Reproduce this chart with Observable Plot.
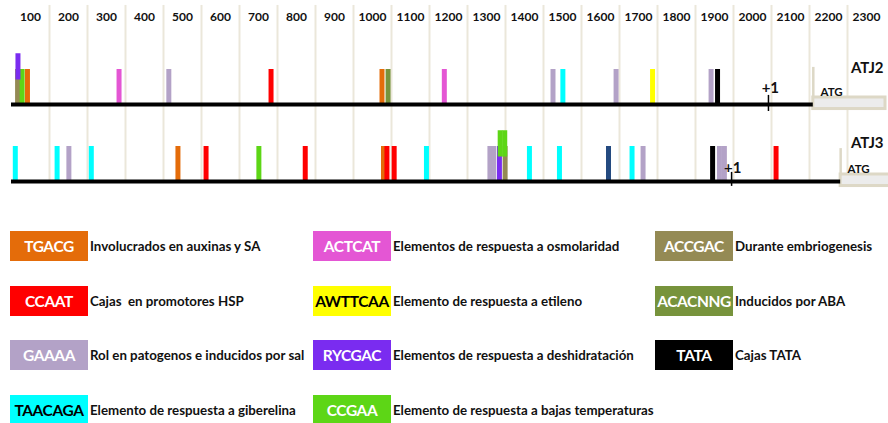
<!DOCTYPE html>
<html>
<head>
<meta charset="utf-8">
<script src="https://cdn.jsdelivr.net/npm/d3@7"></script>
<script src="https://cdn.jsdelivr.net/npm/@observablehq/plot@0.6"></script>
<style>
  html, body { margin: 0; padding: 0; background: #fff; }
  #wrap { position: relative; width: 888px; height: 423px; font-family: Lato, "Open Sans", sans-serif; overflow: hidden; }
  #chart svg { display: block; overflow: visible; }
  .item { position: absolute; display: flex; align-items: center; height: 30px; }
  .box { width: 78px; height: 30px; display: flex; align-items: center; justify-content: center;
         font-weight: bold; font-size: 15.5px; letter-spacing: -0.4px; overflow: hidden; white-space: nowrap; }
  .desc { margin-left: 2px; font-weight: bold; font-size: 13.3px; color: #111; letter-spacing: 0px; white-space: pre; }
</style>
</head>
<body>
<div id="wrap">
  <div id="chart"></div>
  <div id="legend"></div>
</div>
<script>
// ---- data ----
const tickLabels = ["100","200","300","400","500","600","700","800","900","1000","1100","1200",
  "1300","1400","1500","1600","1700","1800","1900","2000","2100","2200","2300"];
const gridValues = [100,200,300,400,500,600,700,800,900,1000,1100,1200,1300,1400,1500,1600,1700,1800,1900,2000,2100,2200];

const genes = ["ATJ2", "ATJ3"];
const geneEnds = [2110, 2182];          // end of promoter line (ATG start)
const tssPositions = [1992, 1895];     // "+1"

const atj2Positions = [16, 28, 42, 283, 414, 683, 975, 991, 1139, 1425, 1451, 1591, 1687, 1841, 1858];
const atj2Motifs = ["ACCGAC", "CCGAA", "TGACG", "ACTCAT", "GAAAA", "CCAAT", "TGACG", "ACACNNG",
  "ACTCAT", "GAAAA", "TAACAGA", "GAAAA", "AWTTCAA", "GAAAA", "TATA"];
const atj2RaisedPositions = [17];
const atj2RaisedMotifs = ["RYCGAC"];

const atj3Positions = [10, 120, 151, 210, 438, 512, 651, 773, 979, 988, 1007, 1092, 1259, 1269, 1284, 1299,
  1363, 1442, 1571, 1633, 1662, 1845, 1863, 1876, 2012];
const atj3Motifs = ["TAACAGA", "TAACAGA", "GAAAA", "TAACAGA", "TGACG", "CCAAT", "CCGAA", "CCAAT",
  "TGACG", "CCAAT", "CCAAT", "TAACAGA", "GAAAA", "GAAAA", "RYCGAC", "ACCGAC",
  "TAACAGA", "TAACAGA", "OTRO", "TAACAGA", "GAAAA", "TATA", "GAAAA", "GAAAA", "CCAAT"];
const atj3RaisedPositions = [1286, 1298];
const atj3RaisedMotifs = ["CCGAA", "CCGAA"];

const legendCodes = ["TGACG", "CCAAT", "GAAAA", "TAACAGA", "ACTCAT", "AWTTCAA", "RYCGAC", "CCGAA", "ACCGAC", "ACACNNG", "TATA"];
const legendDescs = ["Involucrados en auxinas y SA", "Cajas  en promotores HSP", "Rol en patogenos e inducidos por sal",
  "Elemento de respuesta a giberelina", "Elementos de respuesta a osmolaridad", "Elemento de respuesta a etileno",
  "Elementos de respuesta a deshidratación", "Elemento de respuesta a bajas temperaturas",
  "Durante embriogenesis", "Inducidos por ABA", "Cajas TATA"];
const legendColors = ["#e46c0a", "#ff0000", "#b3a2c7", "#00ffff", "#e456d4", "#ffff00", "#7a2cf0", "#5dd616",
  "#948a54", "#77933c", "#000000"];
const legendTextColors = ["#fff", "#fff", "#fff", "#000", "#fff", "#000", "#fff", "#fff", "#fff", "#fff", "#fff"];

// ---- build ----
const colorOf = new Map(legendCodes.map((c, i) => [c, legendColors[i]]));
colorOf.set("OTRO", "#244a80");
const trackBase = {ATJ2: 2.2, ATJ3: 0};

function bars(gene, pos, motifs, lo, hi) {
  return pos.map((p, i) => ({gene, x: p, motif: motifs[i], y1: trackBase[gene] + lo, y2: trackBase[gene] + hi}));
}
const baseBars = [...bars("ATJ2", atj2Positions, atj2Motifs, 0, 1), ...bars("ATJ3", atj3Positions, atj3Motifs, 0, 1)];
const raisedBars = [...bars("ATJ2", atj2RaisedPositions, atj2RaisedMotifs, 0.7, 1.45),
                    ...bars("ATJ3", atj3RaisedPositions, atj3RaisedMotifs, 0.7, 1.45)];
const tracks = genes.map((g, i) => ({gene: g, base: trackBase[g], end: geneEnds[i], tss: tssPositions[i]}));
const ticks = tickLabels.map((t, i) => ({x: i * 100 + 50, label: t}));

const beige = "#ddd8c6";
const isA2 = d => d.gene === "ATJ2";
const plot = Plot.plot({
  width: 888, height: 195,
  marginTop: 0, marginBottom: 0, marginLeft: 11, marginRight: 3,
  x: {domain: [0, 2300], axis: null},
  y: {domain: [-0.4, 181 / 35], axis: null},
  style: {fontFamily: "Lato, 'Open Sans', sans-serif", background: "white", overflow: "visible"},
  marks: [
    Plot.ruleX(gridValues, {x: d => d, y1: -0.06, y2: 5.03, stroke: "#ebe7da", strokeWidth: 2}),
    Plot.text(ticks, {x: "x", y: 4.69, text: "label", fontSize: 12, fontWeight: "bold", fill: "#111"}),
    // bars
    Plot.ruleX(baseBars, {x: "x", y1: "y1", y2: "y2", stroke: d => colorOf.get(d.motif), strokeWidth: 5}),
    Plot.ruleX(raisedBars, {x: "x", y1: "y1", y2: "y2", stroke: d => colorOf.get(d.motif), strokeWidth: 5}),
    // ATG boxes
    Plot.ruleX(tracks, {x: "end", y1: d => d.base, y2: d => d.base + (isA2(d) ? 1.06 : 0.94), stroke: beige, strokeWidth: 2.5}),
    Plot.rect(tracks, {x1: "end", x2: d => isA2(d) ? 2300 : 2315, y1: d => d.base - 0.13, y2: d => d.base + 0.2, fill: "#ececec", stroke: beige, strokeWidth: 3}),
    // promoter lines
    Plot.ruleY(tracks, {y: "base", x1: 0, x2: "end", stroke: "#000", strokeWidth: 4}),
    // +1 ticks
    Plot.ruleX(tracks, {x: "tss", y1: d => d.base - (isA2(d) ? 0.2 : 0.14), y2: d => d.base + 0.26, stroke: "#000", strokeWidth: 1.5}),
    Plot.text(tracks, {x: d => d.tss + (isA2(d) ? 5 : 3), y: d => d.base + (isA2(d) ? 0.46 : 0.37), text: () => "+1", fontSize: 15, fontWeight: "bold", fill: "#111"}),
    // labels
    Plot.text(tracks, {x: 2252, y: d => d.base + (isA2(d) ? 1.03 : 1.09), text: "gene", fontSize: 15, fontWeight: "bold", fill: "#111"}),
    Plot.text(tracks, {x: d => isA2(d) ? 2129 : 2200, y: d => d.base + 0.34, text: () => "ATG", textAnchor: "start", fontSize: 11.5, fontWeight: "bold", fill: "#111"})
  ]
});
document.getElementById("chart").appendChild(plot);

// ---- legend ----
const legend = document.getElementById("legend");
const colLeft = [10, 313, 655];
legendCodes.forEach((code, i) => {
  const col = i < 4 ? 0 : i < 8 ? 1 : 2;
  const row = i < 4 ? i : i < 8 ? i - 4 : i - 8;
  const item = document.createElement("div");
  item.className = "item";
  item.style.left = colLeft[col] + "px";
  item.style.top = (231 + row * 54.7) + "px";
  const box = document.createElement("div");
  box.className = "box";
  box.style.background = legendColors[i];
  box.style.color = legendTextColors[i];
  box.textContent = code;
  const desc = document.createElement("div");
  desc.className = "desc";
  desc.textContent = legendDescs[i];
  item.appendChild(box);
  item.appendChild(desc);
  legend.appendChild(item);
});
</script>
</body>
</html>
